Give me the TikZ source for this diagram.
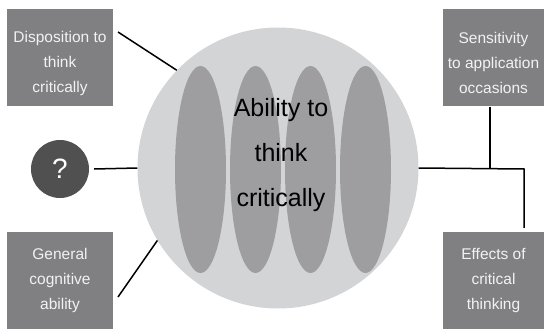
\documentclass[tikz,border=0pt]{standalone}
\usepackage{fontspec}
\setmainfont{Liberation Sans}
\definecolor{boxgray}{RGB}{128,128,130}
\definecolor{ballgray}{RGB}{211,212,214}
\definecolor{ovalgray}{RGB}{158,158,160}
\definecolor{qgray}{RGB}{80,80,80}
\definecolor{boxtxt}{RGB}{242,242,242}
\begin{document}
\begin{tikzpicture}[x=1pt,y=-1pt,
  box/.style={rectangle, fill=boxgray, inner sep=0pt, minimum width=106pt, minimum height=97pt},
  boxtext/.style={align=center, text=boxtxt, inner sep=0pt, font=\fontsize{15.5}{25}\selectfont},
  conn/.style={draw=black, line width=1.5pt},
  oval/.style={fill=ovalgray}]
\useasboundingbox (0,0) rectangle (544,329);
% main ball
\node[circle, fill=ballgray, minimum size=281pt, inner sep=0pt] (main) at (278,168) {};
\foreach \cx in {200.5,255.5,310.5,365.5}
  \fill[oval] (\cx,169.5) ellipse [x radius=25.5pt, y radius=103.5pt];
\node[align=center, inner sep=0pt, font=\fontsize{25}{45}\selectfont] (mtext) at (281,155) {Ability to\\think\\critically};
% boxes
\node[box] (tl) at (60,57.5) {};
\node[boxtext] (tltext) at (60,63) {Disposition to\\think\\critically};
\node[box] (bl) at (60,280.5) {};
\node[boxtext] (bltext) at (60,280) {General\\cognitive\\ability};
\node[box, minimum width=101pt] (tr) at (493.5,58) {};
\node[boxtext] (trtext) at (493.5,63) {Sensitivity\\to application\\occasions};
\node[box, minimum width=101pt] (br) at (493.5,280.5) {};
\node[boxtext] (brtext) at (493.5,280) {Effects of\\critical\\thinking};
% question circle
\node[circle, fill=qgray, minimum size=58pt, inner sep=0pt, text=white, font=\fontsize{28}{30}\selectfont] (q) at (60,169) {?};
% connectors
\coordinate (tlstart) at (118,32);
\coordinate (blstart) at (118,297);
\coordinate (j1) at (490,169);
\coordinate (j2) at (524,169);
\draw[conn] (tlstart) -- (main.136.5);
\draw[conn] (blstart) -- (main.211);
\draw[conn] ([xshift=5pt]q.east) -- (main.west);
\draw[conn] (main.east) -- (j2) -- ([yshift=4pt]j2 |- br.north);
\draw[conn] (j1 |- tr.south) -- (j1);
\end{tikzpicture}
\end{document}
